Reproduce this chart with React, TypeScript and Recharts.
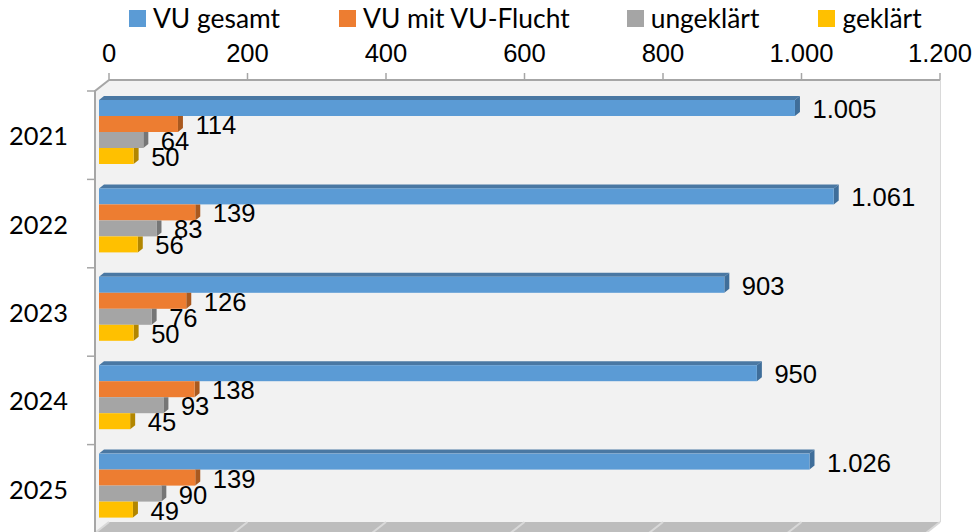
import { BarChart, Bar, XAxis, YAxis, CartesianGrid, Legend, LabelList, usePlotArea } from 'recharts';

const years = ['2021', '2022', '2023', '2024', '2025'];
const vuGesamt = [1005, 1061, 903, 950, 1026];
const vuFlucht = [114, 139, 126, 138, 139];
const ungeklaert = [64, 83, 76, 93, 90];
const geklaert = [50, 56, 50, 45, 49];
const xTicks = [0, 200, 400, 600, 800, 1000, 1200];

const data = years.map((year, i) => ({
  year,
  gesamt: vuGesamt[i],
  flucht: vuFlucht[i],
  ungeklaert: ungeklaert[i],
  geklaert: geklaert[i],
}));

const series = [
  { key: 'gesamt', name: 'VU gesamt', color: '#5B9BD5', side: '#3F6E9A', top: '#4A78A3', gap: 59 },
  { key: 'flucht', name: 'VU mit VU-Flucht', color: '#ED7D31', side: '#A9591F', top: '', gap: 57 },
  { key: 'ungeklaert', name: 'ungeklärt', color: '#A5A5A5', side: '#767676', top: '', gap: 59 },
  { key: 'geklaert', name: 'geklärt', color: '#FFC000', side: '#B28600', top: '', gap: 0 },
];

const numFont = '"Liberation Sans", Arial, sans-serif';
const textFont = 'Lato, sans-serif';

// the chart's plot area is the back wall, bars sit in front of it
const FRONT_DX = -10;
const FRONT_DY = 8;
const DEPTH = 5;
const RISE = 4;

function Walls() {
  const plot = usePlotArea();
  if (!plot) return null;
  const { x, y, width, height } = plot;
  const bottom = y + height;
  const right = x + width;
  const band = height / years.length;
  return (
    <g>
      <polygon points={`${x},${y} ${right},${y} ${right},${bottom} ${x},${bottom}`} fill="#F2F2F2" />
      <polygon points={`${x - 14},${y + 11} ${x},${y} ${x},${bottom} ${x - 14},${bottom + 11}`} fill="#F2F2F2" />
      <polygon points={`${x},${bottom} ${right},${bottom} ${right - 14},${bottom + 11} ${x - 14},${bottom + 11}`} fill="#BDBDBD" />
      {xTicks.map((t) => {
        const tx = x + (t / 1200) * width;
        return <line key={t} x1={tx} y1={bottom} x2={tx - 14} y2={bottom + 11} stroke="#D9D9D9" strokeWidth={2} />;
      })}
      <polyline points={`${x},${y} ${x - 14},${y + 11} ${x - 14},${bottom + 11}`} fill="none" stroke="#A6A6A6" strokeWidth={2} />
      {years.concat('end').map((k, i) => (
        <line key={k} x1={x - 22} x2={x - 14} y1={y + 11 + i * band} y2={y + 11 + i * band} stroke="#A6A6A6" strokeWidth={1.5} />
      ))}
    </g>
  );
}

function Bar3D(props: any) {
  const { x, y, width, height, fill, side, top } = props;
  const x0 = x + FRONT_DX;
  const y0 = y + FRONT_DY;
  const x1 = x0 + width;
  const y1 = y0 + height;
  return (
    <g>
      {top && <polygon points={`${x0},${y0} ${x1},${y0} ${x1 + DEPTH},${y0 - RISE} ${x0 + DEPTH},${y0 - RISE}`} fill={top} />}
      <polygon
        points={`${x1},${y0} ${x1 + DEPTH},${top ? y0 - RISE : y0} ${x1 + DEPTH},${y1 - RISE} ${x1},${y1}`}
        fill={side}
      />
      <rect x={x0} y={y0} width={width} height={height} fill={fill} />
    </g>
  );
}

function ValueLabel(props: any) {
  const { x, y, width, height, value } = props;
  return (
    <text
      x={x + width + FRONT_DX + 17.5}
      y={y + height / 2 + FRONT_DY + 1}
      dominantBaseline="central"
      fontFamily={numFont}
      fontSize={25.6}
      fill="#000"
    >
      {Number(value).toLocaleString('de-DE')}
    </text>
  );
}

function YearTick(props: any) {
  const { x, y, payload } = props;
  return (
    <text x={x - 33} y={y + 11} textAnchor="end" dominantBaseline="central" fontFamily={textFont} fontSize={25.4} fill="#000">
      {payload.value}
    </text>
  );
}

function LegendRow() {
  return (
    <div style={{ display: 'flex', alignItems: 'center', paddingLeft: 129, height: 36 }}>
      {series.map((s) => (
        <div key={s.key} style={{ display: 'flex', alignItems: 'center', marginRight: s.gap }}>
          <span style={{ width: 17, height: 17, background: s.color, marginRight: 7 }} />
          <span style={{ fontFamily: textFont, fontSize: 26.4, color: '#000', whiteSpace: 'nowrap' }}>{s.name}</span>
        </div>
      ))}
    </div>
  );
}

export default function App() {
  return (
    <div style={{ position: 'absolute', left: 0, top: 0, width: 978, height: 532, overflow: 'hidden' }}>
      <BarChart
        width={978}
        height={532}
        data={data}
        layout="vertical"
        barSize={16}
        barGap={0}
        margin={{ top: 0, right: 38, bottom: 10, left: 0 }}
      >
        <Walls />
        <CartesianGrid horizontal={false} stroke="#D9D9D9" strokeWidth={2} />
        <XAxis
          type="number"
          orientation="top"
          height={44}
          domain={[0, 1200]}
          ticks={xTicks}
          interval={0}
          tickSize={7}
          tickMargin={11}
          tickFormatter={(v: number) => v.toLocaleString('de-DE')}
          axisLine={{ stroke: '#A6A6A6', strokeWidth: 2 }}
          tickLine={{ stroke: '#A6A6A6', strokeWidth: 1.5 }}
          tick={{ fontFamily: numFont, fontSize: 25.6, fill: '#000' }}
        />
        <YAxis type="category" dataKey="year" width={109} axisLine={false} tickLine={false} tick={<YearTick />} />
        <Legend verticalAlign="top" wrapperStyle={{ left: 0, top: 0, width: 978 }} content={<LegendRow />} />
        {series.map((s) => (
          <Bar
            key={s.key}
            dataKey={s.key}
            name={s.name}
            fill={s.color}
            isAnimationActive={false}
            shape={(p: any) => <Bar3D {...p} fill={s.color} side={s.side} top={s.top} />}
          >
            <LabelList dataKey={s.key} content={<ValueLabel />} />
          </Bar>
        ))}
      </BarChart>
    </div>
  );
}
